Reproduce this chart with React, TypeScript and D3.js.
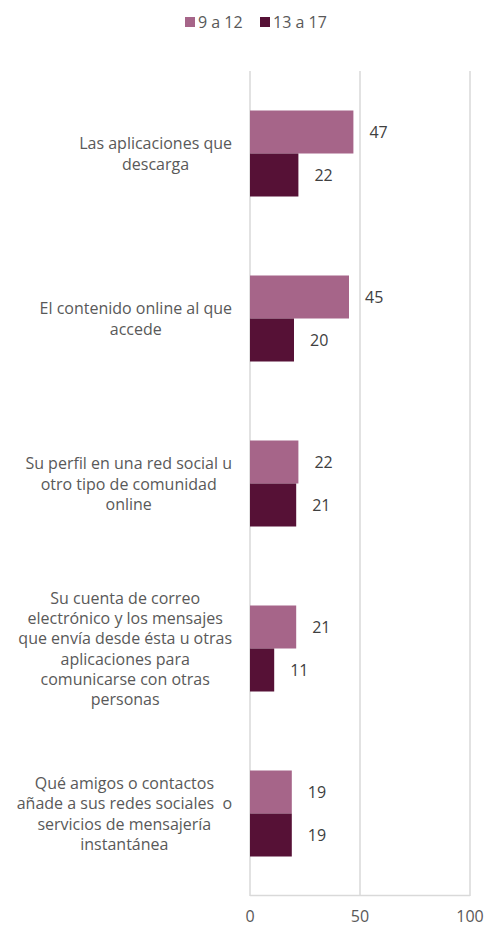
import React from "react";
import * as d3 from "d3";

const categories: string[][] = [
  ["Las aplicaciones que", "descarga"],
  ["El contenido online al que", "accede"],
  ["Su perfil en una red social u", "otro tipo de comunidad", "online"],
  ["Su cuenta de correo", "electrónico y los mensajes", "que envía desde ésta u otras", "aplicaciones para", "comunicarse con otras", "personas"],
  ["Qué amigos o contactos", "añade a sus redes sociales  o", "servicios de mensajería", "instantánea"],
];
const seriesNames = ["9 a 12", "13 a 17"];
const series9a12 = [47, 45, 22, 21, 19];
const series13a17 = [22, 20, 21, 11, 19];
const xTicks = [0, 50, 100];

const colors = ["#A66589", "#561136"];
const FONT_NAME = "Open Sans";
const FONT = `'${FONT_NAME}', sans-serif`;
const FS = 16;

function measure(text: string): number {
  if (typeof document === "undefined") return text.length * 8;
  const c = document.createElement("canvas").getContext("2d");
  if (!c) return text.length * 8;
  c.font = `${FS}px '${FONT_NAME}'`;
  return c.measureText(text).width;
}

export default function App() {
  const W = 486, H = 927;
  const x = d3.scaleLinear().domain([0, 100]).range([250, 470]);
  const y = d3.scaleBand<number>().domain(d3.range(categories.length)).range([71, 896]);
  const band = y.bandwidth();
  const barH = 43;
  const series = [series9a12, series13a17];
  const lineH = 20.3;

  return (
    <svg width={W} height={H} style={{ position: "absolute", left: 0, top: 0, fontFamily: FONT }}>
      {/* legend */}
      {seriesNames.map((n, i) => {
        const lx = [185, 260][i];
        return (
          <g key={n}>
            <rect x={lx} y={17} width={10} height={10} fill={colors[i]} />
            <text x={lx + 13} y={22} dominantBaseline="central" fontSize={FS} fill="#595959">{n}</text>
          </g>
        );
      })}
      {/* gridlines */}
      {xTicks.map((t) => (
        <line key={t} x1={x(t)} x2={x(t)} y1={71} y2={896} stroke="#D9D9D9" strokeWidth={1.5} />
      ))}
      <line x1={x(0)} x2={x(100)} y1={895.5} y2={895.5} stroke="#D9D9D9" strokeWidth={1.5} />
      {/* bars */}
      {categories.map((_, ci) => {
        const cy = (y(ci) as number) + band / 2;
        return series.map((s, si) => {
          const by = cy - barH + si * barH;
          return (
            <g key={`${ci}-${si}`}>
              <rect x={x(0)} y={by} width={x(s[ci]) - x(0)} height={barH} fill={colors[si]} />
              <text x={x(s[ci]) + 16} y={by + barH / 2} dominantBaseline="central" fontSize={FS} fill="#404040">{s[ci]}</text>
            </g>
          );
        });
      })}
      {/* category labels */}
      {categories.map((lines, ci) => {
        const cy = (y(ci) as number) + band / 2;
        const maxW = Math.max(...lines.map(measure));
        const cx = Math.max(maxW / 2 + 15, 232 - maxW / 2);
        const y0 = cy - ((lines.length - 1) * lineH) / 2;
        return (
          <g key={ci}>
            {lines.map((l, li) => (
              <text key={li} x={cx} y={y0 + li * lineH} textAnchor="middle" dominantBaseline="central" fontSize={FS} fill="#595959" style={{ whiteSpace: "pre" }}>{l}</text>
            ))}
          </g>
        );
      })}
      {/* x tick labels */}
      {xTicks.map((t) => (
        <text key={t} x={x(t)} y={916} textAnchor="middle" dominantBaseline="central" fontSize={FS} fill="#595959">{t}</text>
      ))}
    </svg>
  );
}
